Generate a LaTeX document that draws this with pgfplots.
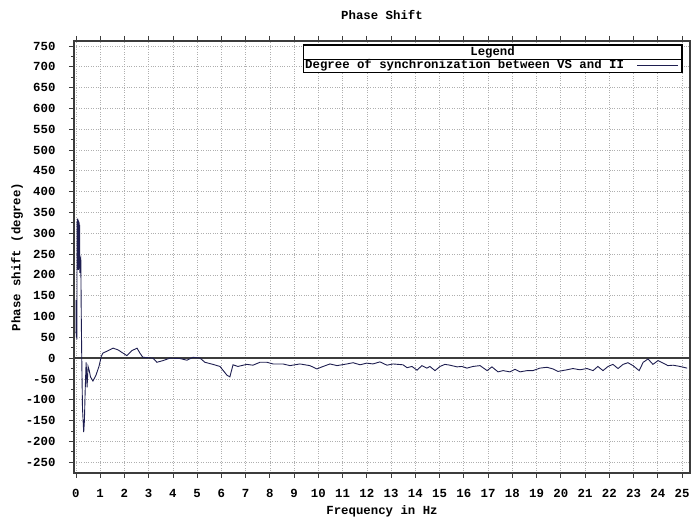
\documentclass[border=0pt]{standalone}
\usepackage{pgfplots}
\pgfplotsset{compat=1.18}
\usetikzlibrary{calc}
\usepackage{fontspec}
\setmonofont{Liberation Mono}
\definecolor{trace}{RGB}{30,30,80}
\definecolor{frame}{RGB}{60,60,60}
\definecolor{gridc}{RGB}{175,175,175}
\newcommand{\chartfont}{\ttfamily\bfseries\fontsize{12.4}{13}\selectfont}

\begin{document}
\begin{tikzpicture}[x=1bp,y=1bp]
\begin{axis}[
  name=main,
  scale only axis,
  width=616bp, height=432bp,
  xmin=-0.08, xmax=25.33,
  ymin=-276, ymax=762,
  axis line style={frame, line width=1.3pt},
  every tick/.style={frame, line width=0.8pt},
  tick align=outside,
  major tick length=5bp,
  minor tick length=3bp,
  xtick={0,1,...,25},
  ytick={-250,-200,...,750},
  minor y tick num=1,
  xtick pos=both,
  ytick pos=left,
  grid=major,
  major grid style={gridc, dotted, line width=0.7pt},
  font=\chartfont,
  tick label style={font=\chartfont},
  /pgf/number format/assume math mode=true,
  xticklabel style={yshift=-8bp},
  yticklabel style={xshift=-10bp},
  title={Phase Shift},
  title style={yshift=12bp},
  xlabel={Frequency in Hz},
  ylabel={Phase shift (degree)},
  xlabel style={yshift=-1bp},
  ylabel style={yshift=-4bp},
  clip=true,
]
% zero reference line
\draw[frame, line width=1.3pt] (axis cs:-0.08,0) -- (axis cs:25.33,0);

\addplot[trace, line width=0.9pt] coordinates {
(0.00,60) (0.01,140) (0.02,50) (0.03,120) (0.04,45)
(0.05,330) (0.06,215) (0.07,335) (0.08,220) (0.09,332) (0.10,212)
(0.11,330) (0.12,225) (0.13,326) (0.14,215) (0.15,320) (0.16,205)
(0.18,235) (0.20,240) (0.22,100) (0.24,0)
(0.27,-120) (0.32,-178) (0.35,-150) (0.38,-80)
(0.42,-10) (0.46,-70) (0.50,-20) (0.55,-30) (0.60,-45)
(0.70,-55) (0.82,-42) (0.95,-20) (1.05,5)
(1.11,12) (1.40,20) (1.53,24) (1.73,20) (2.10,6) (2.31,18)
(2.52,24) (2.64,12) (2.76,2) (3.18,0) (3.34,-10) (3.59,-6)
(3.88,0) (4.29,-1) (4.58,-5) (4.83,2) (5.12,0) (5.32,-10)
(5.65,-15) (5.94,-20) (6.23,-41) (6.35,-45) (6.48,-16) (6.68,-20)
(7.05,-15) (7.30,-17) (7.59,-10) (7.88,-10) (8.13,-14) (8.54,-14)
(8.83,-18) (9.24,-14) (9.65,-18) (9.94,-26) (10.15,-21) (10.48,-14)
(10.77,-18) (11.18,-14) (11.43,-11) (11.72,-16) (12.00,-12) (12.25,-14)
(12.54,-9) (12.83,-17) (13.08,-14) (13.49,-16) (13.66,-23) (13.86,-20)
(14.07,-29) (14.27,-18) (14.48,-24) (14.60,-20) (14.81,-30) (15.02,-20)
(15.22,-15) (15.43,-17) (15.72,-21) (15.92,-20) (16.13,-24) (16.38,-20)
(16.67,-18) (16.96,-30) (17.16,-21) (17.41,-33) (17.62,-30) (17.90,-33)
(18.11,-27) (18.32,-33) (18.61,-30) (18.85,-30) (19.14,-24) (19.43,-22)
(19.68,-26) (19.88,-32) (20.26,-28) (20.50,-25) (20.79,-28) (21.08,-25)
(21.33,-30) (21.53,-20) (21.74,-30) (21.95,-20) (22.15,-15) (22.36,-25)
(22.57,-15) (22.77,-11) (22.98,-18) (23.23,-30) (23.40,-10) (23.60,-2)
(23.80,-15) (24.01,-6) (24.22,-12) (24.42,-18) (24.63,-17) (24.92,-20)
(25.21,-24)
};

% legend box
\fill[white] (rel axis cs:0.372,0.928) rectangle (rel axis cs:0.987,0.9907);
\draw[black, line width=1.1pt] (rel axis cs:0.372,0.928) rectangle (rel axis cs:0.987,0.9907);
\draw[black, line width=1.1pt] (rel axis cs:0.372,0.958) -- (rel axis cs:0.987,0.958);
\node[font=\chartfont, inner sep=0pt]
  at (rel axis cs:0.6795,0.9744) {Legend};
\node[font=\chartfont, inner sep=0pt, anchor=west]
  at (rel axis cs:0.375,0.943) {Degree of synchronization between VS and II};
\draw[trace, line width=0.9pt] (rel axis cs:0.914,0.943) -- (rel axis cs:0.981,0.943);
\end{axis}
% page extent
\pgfresetboundingbox
\path ($(main.south west)+(-74bp,-48bp)$) rectangle ($(main.north east)+(2bp,41bp)$);
\end{tikzpicture}
\end{document}
